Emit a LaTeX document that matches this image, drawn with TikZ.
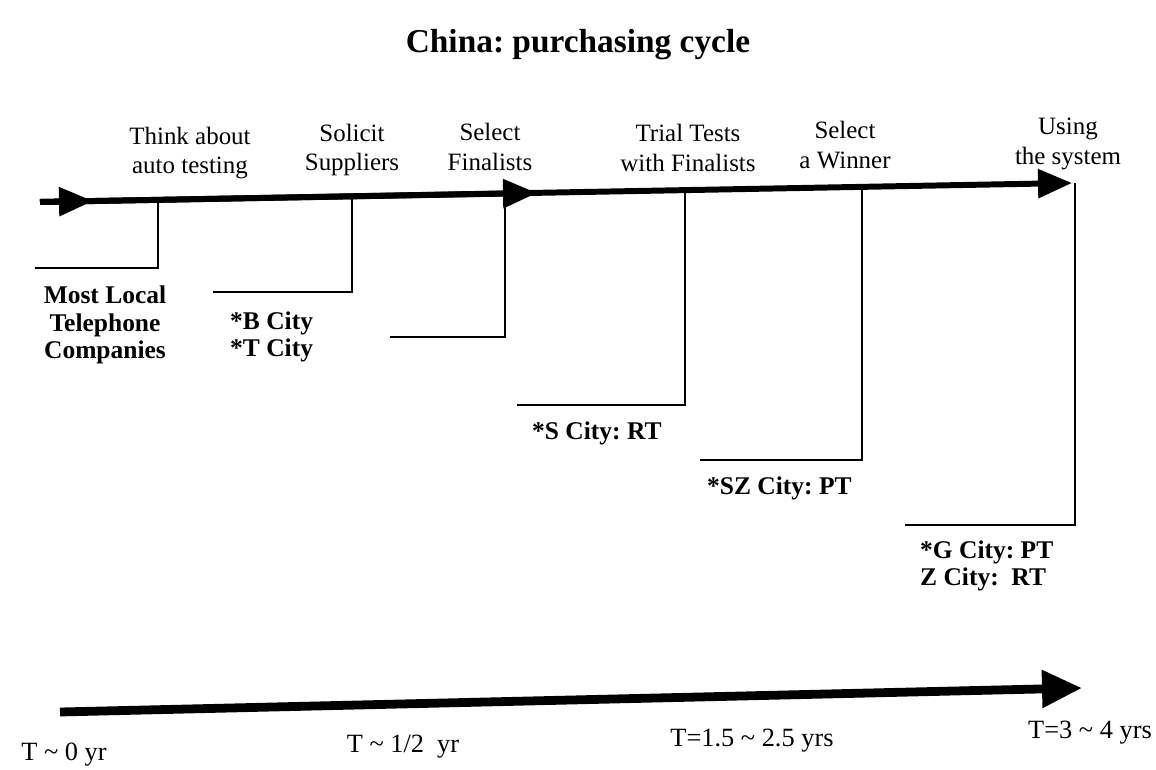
\documentclass[tikz,border=0pt]{standalone}
\usepackage{fontspec}
\setmainfont{Liberation Serif}
\usetikzlibrary{arrows.meta,positioning}
\frenchspacing

\begin{document}
\begin{tikzpicture}[
    x=0.02cm, y=-0.02cm,
    stagelabel/.style={align=center, font=\fontsize{14.2}{17}\selectfont},
    citylabel/.style={align=left, anchor=west, font=\bfseries\fontsize{14.5}{15.5}\selectfont},
    timelabel/.style={font=\fontsize{15}{16}\selectfont},
    cyclearrow/.style={line width=3.4pt, -{Triangle[length=0.68cm, width=0.56cm]}},
    yeararrow/.style={line width=5pt, -{Triangle[length=0.8cm, width=0.72cm]}},
    droplink/.style={line width=1.3pt}
  ]
    \useasboundingbox (0,0) rectangle (1156,770);
    \node[font=\bfseries\fontsize{19}{22}\selectfont] (title) at (578,45) {China: purchasing cycle};

    % stages above the cycle line
    \node[stagelabel] (thinklbl) at (190,153) {Think about\\auto testing};
    \node[stagelabel] (solicitlbl) at (352,150) {Solicit\\Suppliers};
    \node[stagelabel] (finallbl) at (490,147) {Select\\Finalists};
    \node[stagelabel] (triallbl) at (688,148) {Trial Tests\\with Finalists};
    \node[stagelabel] (winnerlbl) at (845,145) {Select\\a Winner};
    \node[stagelabel] (usinglbl) at (1068,144) {Using\\the system};

    % cycle line
    \coordinate (cstart) at (40,202);
    \coordinate (cfirst) at (93,201);
    \coordinate (cmid) at (537,193);
    \coordinate (cend) at (1072,183);
    \draw[cyclearrow] (cstart) -- (cend);
    \draw[cyclearrow] (cstart) -- (cmid);
    \draw[cyclearrow] (cstart) -- (cfirst);

    % drop points on the line and their feet
    \coordinate (think) at (158,200);
    \coordinate (solicit) at (352,196);
    \coordinate (final) at (505,193);
    \coordinate (trial) at (685,190);
    \coordinate (winner) at (862,187);
    \coordinate (using) at (1075,183);
    \coordinate (thinkfoot) at (35,268);
    \coordinate (solicitfoot) at (213,292);
    \coordinate (finalfoot) at (390,337);
    \coordinate (trialfoot) at (517,405);
    \coordinate (winnerfoot) at (700,460);
    \coordinate (usingfoot) at (905,525);
    \draw[droplink] (think) |- (thinkfoot);
    \draw[droplink] (solicit) |- (solicitfoot);
    \draw[droplink] (final) |- (finalfoot);
    \draw[droplink] (trial) |- (trialfoot);
    \draw[droplink] (winner) |- (winnerfoot);
    \draw[droplink] (using) |- (usingfoot);

    % who is at each stage
    \node[citylabel, align=center, anchor=center] (localco) at (105,325) {Most Local\\Telephone\\Companies};
    \node[citylabel] (bcity) at (224,337) {*B City\\*T City};
    \node[citylabel] (scity) at (526,433) {*S City: RT};
    \node[citylabel] (szcity) at (701,488) {*SZ City: PT};
    \node[citylabel] (gcity) at (914,566) {*G City: PT\\Z City:\ \ RT};

    % time line
    \coordinate (ystart) at (60,712);
    \coordinate (yend) at (1082,688);
    \draw[yeararrow] (ystart) -- (yend);
    \node[timelabel] (t0) at (64,755) {T \textasciitilde{} 0 yr};
    \node[timelabel] (thalf) at (403,747) {T \textasciitilde{} 1/2\ \ yr};
    \node[timelabel] (tmid) at (752,741) {T=1.5 \textasciitilde{} 2.5 yrs};
    \node[timelabel] (tlate) at (1090,733) {T=3 \textasciitilde{} 4 yrs};
\end{tikzpicture}
\end{document}
